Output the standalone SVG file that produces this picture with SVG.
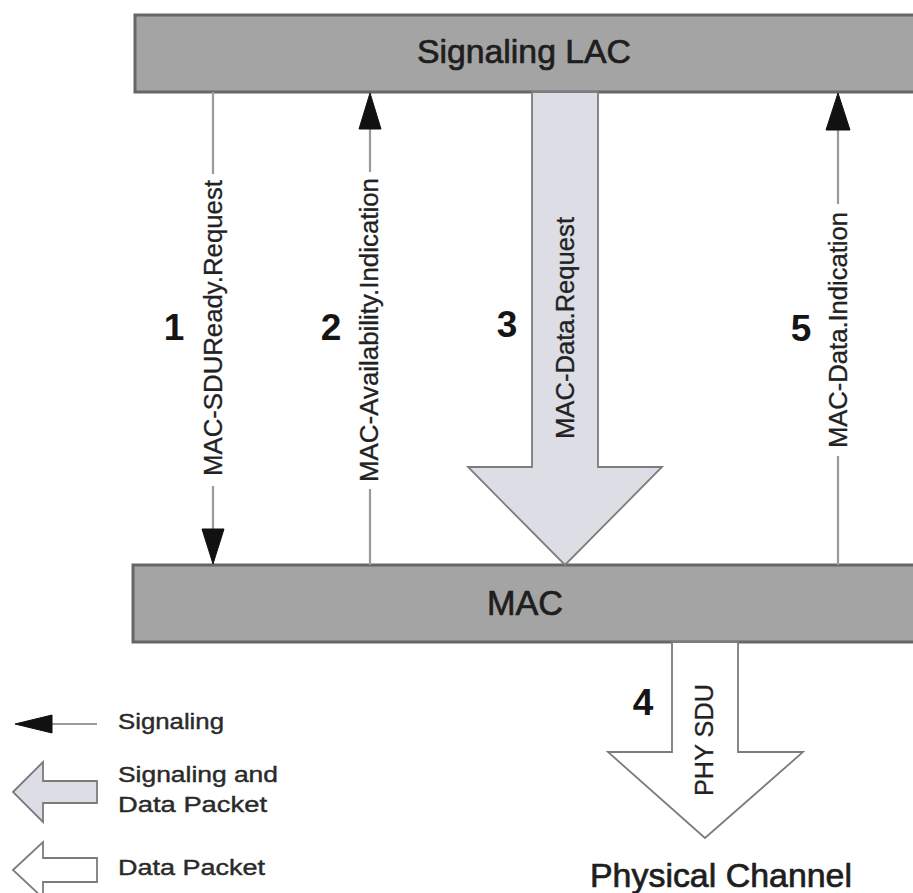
<svg xmlns="http://www.w3.org/2000/svg" width="913" height="893" viewBox="0 0 913 893">
  <style>
    .bar { fill: #a4a4a4; stroke: #666666; stroke-width: 3; }
    .title { font-family: "Liberation Sans", Arial, sans-serif; fill: #1e1e1e; stroke: #1e1e1e; stroke-width: 0.7; text-anchor: middle; }
    .sig { stroke: #9a9a9a; stroke-width: 2.2; fill: none; }
    .head { fill: #111; stroke: #111; stroke-width: 1; stroke-linejoin: round; }
    .lbl { font-family: "Liberation Sans", Arial, sans-serif; font-size: 25px; fill: #222; stroke: #222; stroke-width: 0.3; text-anchor: middle; }
    .num { font-family: "Liberation Sans", Arial, sans-serif; font-size: 37px; font-weight: bold; fill: #151515; text-anchor: middle; }
    .fat { fill: #dcdde5; stroke: #7c7c7c; stroke-width: 1.8; stroke-linejoin: miter; }
    .hollow { fill: #ffffff; stroke: #7c7c7c; stroke-width: 1.8; }
    .leg { font-family: "Liberation Sans", Arial, sans-serif; font-size: 22px; fill: #2a2a2a; stroke: #2a2a2a; stroke-width: 0.4; }
  </style>

  <rect width="913" height="893" fill="#ffffff"/>

  <!-- upper layer -->
  <g id="node-lac">
    <rect class="bar" x="135" y="15" width="790" height="77"/>
    <text class="title" x="524" y="63" font-size="33" textLength="214" lengthAdjust="spacingAndGlyphs">Signaling LAC</text>
  </g>

  <!-- MAC layer -->
  <g id="node-mac">
    <rect class="bar" x="133" y="565" width="792" height="77"/>
    <text class="title" x="525" y="615" font-size="35" textLength="76" lengthAdjust="spacingAndGlyphs">MAC</text>
  </g>

  <!-- physical channel -->
  <g id="node-phy">
    <text class="title" x="721" y="887" font-size="33" textLength="262" lengthAdjust="spacingAndGlyphs">Physical Channel</text>
  </g>

  <g id="connectors">
    <!-- 1: MAC-SDUReady.Request (down) -->
    <g id="c1">
      <line class="sig" x1="213" y1="92" x2="213" y2="174"/>
      <line class="sig" x1="213" y1="486" x2="213" y2="530"/>
      <polygon class="head" points="202,529 224,529 213,564"/>
      <text class="lbl" transform="translate(222,328) rotate(-90)" textLength="296" lengthAdjust="spacingAndGlyphs">MAC-SDUReady.Request</text>
      <text class="num" x="174" y="340">1</text>
    </g>

    <!-- 2: MAC-Availability.Indication (up) -->
    <g id="c2">
      <line class="sig" x1="370" y1="128" x2="370" y2="172"/>
      <line class="sig" x1="370" y1="489" x2="370" y2="565"/>
      <polygon class="head" points="359,129 381,129 370,93"/>
      <text class="lbl" transform="translate(378,330) rotate(-90)" textLength="304" lengthAdjust="spacingAndGlyphs">MAC-Availability.Indication</text>
      <text class="num" x="331" y="340">2</text>
    </g>

    <!-- 3: MAC-Data.Request (signaling and data) -->
    <g id="c3">
      <polygon class="fat" points="532,92 598,92 598,467 662,467 565,565 468,467 532,467"/>
      <text class="lbl" transform="translate(574,328) rotate(-90)" textLength="222" lengthAdjust="spacingAndGlyphs">MAC-Data.Request</text>
      <text class="num" x="507" y="337">3</text>
    </g>

    <!-- 4: PHY SDU (data) -->
    <g id="c4">
      <polygon class="hollow" points="672,642 738,642 738,752 803,752 705,838 608,752 672,752"/>
      <text class="lbl" transform="translate(713,740) rotate(-90)" textLength="112" lengthAdjust="spacingAndGlyphs">PHY SDU</text>
      <text class="num" x="643" y="715">4</text>
    </g>

    <!-- 5: MAC-Data.Indication (up) -->
    <g id="c5">
      <line class="sig" x1="838" y1="129" x2="838" y2="204"/>
      <line class="sig" x1="838" y1="456" x2="838" y2="565"/>
      <polygon class="head" points="826,130 850,130 838,93"/>
      <text class="lbl" transform="translate(847,330) rotate(-90)" textLength="236" lengthAdjust="spacingAndGlyphs">MAC-Data.Indication</text>
      <text class="num" x="801" y="341">5</text>
    </g>
  </g>

  <!-- legend -->
  <g id="legend">
    <line class="sig" x1="50" y1="724" x2="97" y2="724"/>
    <polygon class="head" points="15,724 52,715 52,733"/>
    <text class="leg" x="118" y="729" textLength="106" lengthAdjust="spacingAndGlyphs">Signaling</text>

    <polygon class="fat" points="13,792 43,762 43,781 97,781 97,803 43,803 43,822"/>
    <text class="leg" x="118" y="782" textLength="160" lengthAdjust="spacingAndGlyphs">Signaling and</text>
    <text class="leg" x="118" y="812" textLength="149" lengthAdjust="spacingAndGlyphs">Data Packet</text>

    <polygon class="hollow" points="13,870 43,842 43,858 97,858 97,882 43,882 43,898"/>
    <text class="leg" x="118" y="875" textLength="147" lengthAdjust="spacingAndGlyphs">Data Packet</text>
  </g>
</svg>
